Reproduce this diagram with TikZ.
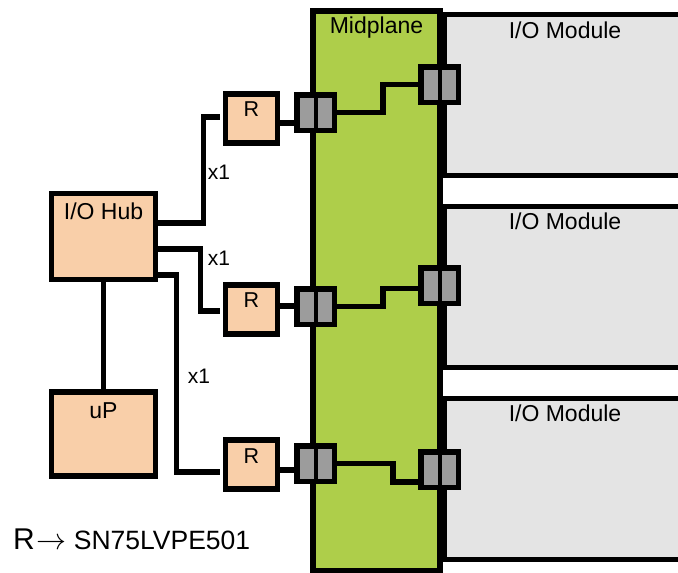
\documentclass[tikz,border=0pt]{standalone}
\usepackage{graphicx}
\usepackage{fontspec}
\setmainfont{Liberation Sans}
\usetikzlibrary{positioning, calc}
\definecolor{peach}{HTML}{F9CFA9}
\definecolor{midgreen}{HTML}{AECE4A}
\definecolor{pluggrey}{HTML}{9C9C9C}
\definecolor{modgrey}{HTML}{E4E4E4}

\begin{document}
\begin{tikzpicture}[
    x=1pt,y=-1pt,
    chipbox/.style={
        draw,
        line width=5.5pt,
        fill=peach,
        inner sep=0pt
    },
    rbox/.style={
        chipbox,
        minimum width=52pt,
        minimum height=49pt
    },
    module/.style={
        draw,
        line width=5pt,
        fill=modgrey,
        minimum width=256pt,
        minimum height=161pt
    },
    plane/.style={
        draw,
        line width=6pt,
        fill=midgreen,
        minimum width=127pt,
        minimum height=560pt
    },
    plug/.style={
        fill=black,
        inner sep=0pt,
        minimum width=43pt,
        minimum height=41pt,
        path picture={
            \fill[pluggrey] ($(path picture bounding box.center)+(-15.5,-15)$) rectangle ++(14,30);
            \fill[pluggrey] ($(path picture bounding box.center)+(2.5,-15)$) rectangle ++(14,30);
        }
    },
    wire/.style={line width=5.5pt},
    tag/.style={inner sep=0pt, font=\fontsize{23}{27}\selectfont},
    rtag/.style={inner sep=0pt, font=\fontsize{21.5}{25}\selectfont},
    lanetag/.style={inner sep=0pt, font=\fontsize{21}{24}\selectfont}
]
\clip (0,0) rectangle (678,573);

% io modules
\node[module] (mod1) at (572,95) {};
\node[module] (mod2) at (572,286.5) {};
\node[module] (mod3) at (572,478.5) {};
\node[tag, anchor=north] (mod1txt) at ($(mod1.north)+(-7,10)$) {I/O Module};
\node[tag, anchor=north] (mod2txt) at ($(mod2.north)+(-7,9)$) {I/O Module};
\node[tag, anchor=north] (mod3txt) at ($(mod3.north)+(-7,9)$) {I/O Module};

% midplane
\node[plane] (mid) at (376.5,291) {};
\node[tag, below=9pt of mid.north] (midtxt) {Midplane};

% hub, processor and retimers
\node[chipbox, minimum width=104pt, minimum height=86pt] (hub) at (103.5,236.5) {};
\node[chipbox, minimum width=104pt, minimum height=84pt] (up) at (103.5,434) {};
\node[tag, below=12pt of hub.north] (hubtxt) {I/O Hub};
\node[tag, below=13pt of up.north] (uptxt) {uP};

\node[rbox] (r1) at (251.5,118.5) {};
\node[rbox] (r2) at (251.5,309.5) {};
\node[rbox] (r3) at (251.5,464.5) {};
\node[rtag, below=10pt of r1.north] (r1txt) {R};
\node[rtag, below=10pt of r2.north] (r2txt) {R};
\node[rtag, below=11pt of r3.north] (r3txt) {R};

% connectors
\node[plug] (pl1) at (315.5,112.5) {};
\node[plug] (pl2) at (315.5,306.5) {};
\node[plug] (pl3) at (315.5,463.5) {};
\node[plug] (pr1) at (439.5,84.5) {};
\node[plug] (pr2) at (439.5,285.5) {};
\node[plug] (pr3) at (439.5,469.5) {};

% hub lanes
\draw[wire] (hub.south) -- (up.north);
\draw[wire, shorten >=3pt] ($(hub.east)+(0,-13.5)$) -- ++(45,0) |- ($(r1.west)+(0,-1.5)$);
\draw[wire, shorten >=3pt] ($(hub.east)+(0,12.5)$) -- ++(42,0) |- ($(r2.west)+(0,1.5)$);
\draw[wire, shorten >=3pt] ($(hub.east)+(0,38.5)$) -- ++(18,0) |- ($(r3.west)+(0,7.5)$);

\node[lanetag] (lane1) at (219,172) {x1};
\node[lanetag] (lane2) at (219,258) {x1};
\node[lanetag] (lane3) at (199,376) {x1};

% retimer to midplane
\draw[wire] ($(r1.east)+(0,4.5)$) coordinate (r1out) -- (r1out -| pl1.west);
\draw[wire] ($(r2.east)+(0,-3.5)$) coordinate (r2out) -- (r2out -| pl2.west);
\draw[wire] ($(r3.east)+(0,5.5)$) coordinate (r3out) -- (r3out -| pl3.west);

% midplane traces
\draw[wire] (pl1.east) -- ++(46,0) |- (pr1.west);
\draw[wire] (pl2.east) -- ++(46,0) |- ($(pr2.west)+(0,3)$);
\draw[wire] (pl3.east) -- ++(56,0) |- ($(pr3.west)+(0,12.5)$);

% legend
\node[inner sep=0pt, anchor=base west] (legend) at (13,549)
{{\fontsize{30}{32}\selectfont R}\kern2pt\resizebox{30pt}{!}{$\rightarrow$}\hspace{7pt}{\fontsize{26.5}{30}\selectfont SN75LVPE501}};

\end{tikzpicture}
\end{document}
